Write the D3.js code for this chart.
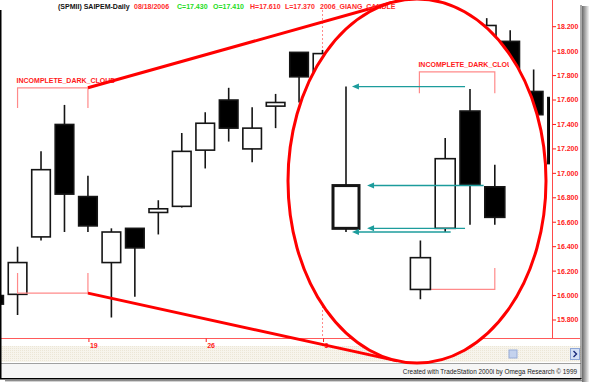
<!DOCTYPE html>
<html>
<head>
<script src="https://cdn.jsdelivr.net/npm/d3@7"></script>
<style>
  body { margin: 0; background: #fff; }
  svg { display: block; font-family: "Liberation Sans", Arial, sans-serif; }
</style>
</head>
<body>
<div id="chart"></div>
<script>
// daily bars, SAIPEM (hidden ones behind the magnifier left as null)
const dates = ["2006-06-13", "2006-06-14", "2006-06-15", "2006-06-16", "2006-06-19",
  "2006-06-20", "2006-06-21", "2006-06-22", "2006-06-23", "2006-06-26",
  "2006-06-27", "2006-06-28", "2006-06-29", "2006-06-30", "2006-07-03",
  "2006-07-04", "2006-07-05", "2006-07-06", "2006-07-07", "2006-07-10",
  "2006-07-11", "2006-07-12", "2006-07-13", "2006-07-14", "2006-07-17"];
const opens  = [16.00, 16.01, 16.48, 17.40, 16.81, 16.27, 16.55, 16.68, 16.73, 17.19, 17.60, 17.20, 17.55, 17.99, 17.70,
  null, null, null, null, null, null, 17.95, 18.08, 17.67, 17.62];
const highs  = [16.06, 16.40, 17.18, 17.56, 16.98, 16.55, 16.55, 16.78, 17.33, 17.50, 17.70, 17.54, 17.65, 17.99, 18.01,
  null, null, null, null, null, null, 18.27, 18.17, 17.85, 17.70];
const lows   = [15.88, 15.84, 16.45, 16.52, 16.52, 15.82, 15.99, 16.50, 16.72, 17.04, 17.26, 17.09, 17.37, 17.58, 17.60,
  null, null, null, null, null, null, 17.80, 17.55, 17.40, 16.95];
const closes = [15.93, 16.27, 17.03, 16.83, 16.57, 16.52, 16.39, 16.71, 17.18, 17.41, 17.37, 17.37, 17.58, 17.79, 17.98,
  null, null, null, null, null, null, 18.21, 17.72, 17.48, 17.08];

const priceTicks = [15.8, 16.0, 16.2, 16.4, 16.6, 16.8, 17.0, 17.2, 17.4, 17.6, 17.8, 18.0, 18.2];
const dateTicks = ["2006-06-19", "2006-06-26", "2006-07-03"];
const dateTickLabels = ["19", "26", "3"];
const markerDate = "2006-07-03";

// magnified pattern drawn inside the circle
const zoomSlots  = [0, 3, 4, 5, 6];
const zoomOpens  = [16.55, 16.05, 16.55, 17.51, 16.89];
const zoomHighs  = [17.71, 16.45, 17.29, 17.69, 17.07];
const zoomLows   = [16.52, 15.97, 16.52, 16.58, 16.58];
const zoomCloses = [16.90, 16.31, 17.12, 16.91, 16.64];

// teal arrows: price level, start slot, end slot
const arrowLevels = [17.71, 16.90, 16.55, 16.52];
const arrowFrom   = [4.8, 5.55, 4.8, 4.22];
const arrowTo     = [0.24, 0.85, 0.85, 0.24];

const mainBracket = { from: "2006-06-14", to: "2006-06-19", top: 17.70, bottom: 16.02, leg: 0.165 };
const zoomBracket = { from: 3, to: 6, top: 17.83, bottom: 16.05, leg: 0.175 };
const patternName = "INCOMPLETE_DARK_CLOUD";

const header = [
  { t: "(SPMII) SAIPEM-Daily", c: "#111", x: 58 },
  { t: "08/18/2006", c: "#ff2a2a", x: 134 },
  { t: "C=17.430", c: "#22dd22", x: 177 },
  { t: "O=17.410", c: "#22dd22", x: 213 },
  { t: "H=17.610", c: "#ff2a2a", x: 250 },
  { t: "L=17.370", c: "#ff2a2a", x: 285 },
  { t: "2006_GIANG_CANDLE", c: "#ff2a2a", x: 320 }
];

const W = 589, H = 382;
const plotRight = 550, axisX = 552.5, axisY = 338.5;
const E = { cx: 417, cy: 181, rx: 129, ry: 182 };
const red = "#ff1a1a", pink = "#ff8a8a", teal = "#1c9c9c";

const svg = d3.select("#chart").append("svg").attr("width", W).attr("height", H);
const defs = svg.append("defs");

const x = d3.scalePoint().domain(dates).range([-5.9, 557.1]);
const y = d3.scaleLinear().domain([15.8, 18.2]).range([320, 26.7]);
const xz = d3.scaleLinear().domain([0, 6]).range([346, 494.8]);

svg.append("rect").attr("width", W).attr("height", H).attr("fill", "#fff");

// shadow
const sg = defs.append("linearGradient").attr("id", "shR");
sg.append("stop").attr("offset", 0).attr("stop-color", "#6a6a6a");
sg.append("stop").attr("offset", 1).attr("stop-color", "#f4f4f4");
const sgb = defs.append("linearGradient").attr("id", "shB").attr("x1", 0).attr("x2", 0).attr("y1", 0).attr("y2", 1);
sgb.append("stop").attr("offset", 0).attr("stop-color", "#6a6a6a");
sgb.append("stop").attr("offset", 1).attr("stop-color", "#f4f4f4");
svg.append("rect").attr("x", 582).attr("y", 6).attr("width", 7).attr("height", 376).attr("fill", "url(#shR)");
svg.append("rect").attr("x", 5).attr("y", 380).attr("width", 577).attr("height", 2).attr("fill", "url(#shB)");

// status strip and footer
const pat = defs.append("pattern").attr("id", "dots").attr("width", 2).attr("height", 2)
  .attr("patternUnits", "userSpaceOnUse");
pat.append("rect").attr("width", 2).attr("height", 2).attr("fill", "#f7f4ec");
pat.append("rect").attr("width", 1).attr("height", 1).attr("fill", "#ece6d6");
svg.append("rect").attr("x", 1).attr("y", 346).attr("width", 580).attr("height", 16).attr("fill", "url(#dots)");
svg.append("rect").attr("x", 509).attr("y", 350).attr("width", 8).attr("height", 8)
  .attr("fill", "#c4d2ee").attr("stroke", "#98acd8");
svg.append("rect").attr("x", 570.5).attr("y", 348.5).attr("width", 9).attr("height", 11)
  .attr("fill", "#d4e0f6").attr("stroke", "#8ea6d6");
svg.append("path").attr("d", "M573.5,351 L576.5,354 L573.5,357").attr("fill", "none")
  .attr("stroke", "#1a2a7a").attr("stroke-width", 1.4);
svg.append("line").attr("x1", 1).attr("x2", 581).attr("y1", 363.5).attr("y2", 363.5).attr("stroke", "#a0a0a0");
svg.append("rect").attr("x", 1).attr("y", 364).attr("width", 580).attr("height", 14).attr("fill", "#f6f6f6");
svg.append("text").attr("x", 577).attr("y", 373.5).attr("text-anchor", "end")
  .attr("font-size", 6.4).attr("fill", "#222")
  .text("Created with TradeStation 2000i by Omega Research \u00a9 1999");

// axes
svg.append("line").attr("x1", 1).attr("x2", 580).attr("y1", axisY).attr("y2", axisY)
  .attr("stroke", "#ff5a5a");
svg.append("line").attr("x1", axisX).attr("x2", axisX).attr("y1", 0).attr("y2", axisY)
  .attr("stroke", "#ff4a4a");
const yt = svg.append("g").selectAll("g").data(priceTicks).join("g")
  .attr("transform", d => `translate(${axisX},${y(d)})`);
yt.append("line").attr("x2", 3.5).attr("stroke", red);
yt.append("text").attr("x", 4.5).attr("dy", "0.35em").attr("font-size", 7).attr("font-weight", "bold")
  .attr("fill", red).text(d => d3.format(".3f")(d));
const xt = svg.append("g").selectAll("g").data(dateTicks).join("g")
  .attr("transform", d => `translate(${x(d) + 1},${axisY})`);
xt.append("line").attr("y2", 3.5).attr("stroke", red);
xt.append("text").attr("x", 1).attr("y", 9.5).attr("font-size", 7).attr("font-weight", "bold")
  .attr("fill", red).text((d, i) => dateTickLabels[i]);

// candles
defs.append("clipPath").attr("id", "plotClip").append("rect")
  .attr("x", 0).attr("y", 0).attr("width", plotRight).attr("height", axisY);
const plot = svg.append("g").attr("clip-path", "url(#plotClip)");

plot.append("line").attr("x1", x(markerDate)).attr("x2", x(markerDate)).attr("y1", 10).attr("y2", 344)
  .attr("stroke", pink).attr("stroke-dasharray", "2,2");

const bars = dates.map((d, i) => ({ d, o: opens[i], h: highs[i], l: lows[i], c: closes[i] }))
  .filter(b => b.o != null);

function drawCandles(g, data, xf, bw, sw) {
  const c = g.selectAll("g.candle").data(data).join("g").attr("class", "candle");
  c.append("line").attr("x1", xf).attr("x2", xf).attr("y1", b => y(b.h)).attr("y2", b => y(b.l))
    .attr("stroke", "#151515").attr("stroke-width", 1.6);
  c.append("rect")
    .attr("x", b => xf(b) - bw / 2)
    .attr("y", b => y(Math.max(b.o, b.c)))
    .attr("width", bw)
    .attr("height", b => Math.max(1.5, Math.abs(y(b.o) - y(b.c))))
    .attr("fill", b => b.c >= b.o ? "#fff" : "#000")
    .attr("stroke", "#151515").attr("stroke-width", sw);
}
drawCandles(plot, bars, b => x(b.d), 18.6, 1.6);

// pattern bracket + label
function bracket(g, x0, x1, top, bottom, leg, labelClip) {
  g.append("path").attr("d", `M${x0},${y(top - leg)}V${y(top)}H${x1}V${y(top - leg)}`)
    .attr("fill", "none").attr("stroke", pink).attr("stroke-width", 1.2);
  g.append("path").attr("d", `M${x0},${y(bottom + leg)}V${y(bottom)}H${x1}V${y(bottom + leg)}`)
    .attr("fill", "none").attr("stroke", pink).attr("stroke-width", 1.2);
  const t = g.append("text").attr("x", x0 - 1).attr("y", y(top) - 4.5).attr("font-size", 7).attr("font-weight", "bold")
    .attr("fill", red).text(patternName);
  if (labelClip) t.attr("clip-path", labelClip);
}
const ann = svg.append("g");
const bx0 = x(mainBracket.from), bx1 = x(mainBracket.to);
bracket(ann, bx0, bx1, mainBracket.top, mainBracket.bottom, mainBracket.leg);

// tangent lines from bracket corners to the magnifier
function tangent(px, py, sign) {
  const ux = (px - E.cx) / E.rx, uy = (py - E.cy) / E.ry;
  const a = Math.atan2(uy, ux) + sign * Math.acos(1 / Math.hypot(ux, uy));
  return [E.cx + E.rx * Math.cos(a), E.cy + E.ry * Math.sin(a)];
}
const c1 = [bx1, y(mainBracket.top)], c2 = [bx1, y(mainBracket.bottom)];
const t1 = tangent(c1[0], c1[1], 1), t2 = tangent(c2[0], c2[1], -1);
svg.append("line").attr("x1", c1[0]).attr("y1", c1[1]).attr("x2", t1[0]).attr("y2", t1[1])
  .attr("stroke", "#ff0000").attr("stroke-width", 3);
svg.append("line").attr("x1", c2[0]).attr("y1", c2[1]).attr("x2", t2[0]).attr("y2", t2[1])
  .attr("stroke", "#ff0000").attr("stroke-width", 3);

// magnifier
svg.append("ellipse").attr("cx", E.cx).attr("cy", E.cy).attr("rx", E.rx).attr("ry", E.ry).attr("fill", "#fff");
defs.append("clipPath").attr("id", "lens").append("ellipse")
  .attr("cx", E.cx).attr("cy", E.cy).attr("rx", E.rx - 1.5).attr("ry", E.ry - 1.5);
// the inset label is cut short in the original
defs.append("clipPath").attr("id", "lensLabel").append("rect")
  .attr("x", 0).attr("y", 0).attr("width", 509).attr("height", H);
const lens = svg.append("g").attr("clip-path", "url(#lens)");

bracket(lens, xz(zoomBracket.from) - 1, xz(zoomBracket.to), zoomBracket.top, zoomBracket.bottom, zoomBracket.leg,
  "url(#lensLabel)");

const zbars = zoomSlots.map((s, i) => ({ s, o: zoomOpens[i], h: zoomHighs[i], l: zoomLows[i], c: zoomCloses[i] }));
drawCandles(lens.append("g"), zbars.slice(1), b => xz(b.s), 20, 1.6);
drawCandles(lens.append("g"), zbars.slice(0, 1), b => xz(b.s), 26, 3);

const arrows = arrowLevels.map((v, i) => ({ v, a: xz(arrowFrom[i]), b: xz(arrowTo[i]) }));
const ar = lens.append("g").selectAll("g").data(arrows).join("g");
ar.append("line").attr("x1", d => d.a).attr("x2", d => d.b + 5).attr("y1", d => y(d.v)).attr("y2", d => y(d.v))
  .attr("stroke", teal).attr("stroke-width", 1.4);
ar.append("path").attr("d", d => `M${d.b},${y(d.v)}l7,-3v6z`).attr("fill", teal);

// header (sits over the lens fill, under its rim)
svg.append("g").selectAll("text").data(header).join("text")
  .attr("x", d => d.x).attr("y", 9).attr("font-size", 7).attr("font-weight", "bold")
  .attr("fill", d => d.c).text(d => d.t);

svg.append("ellipse").attr("cx", E.cx).attr("cy", E.cy).attr("rx", E.rx).attr("ry", E.ry)
  .attr("fill", "none").attr("stroke", "#ff0000").attr("stroke-width", 3);

// window borders
svg.append("line").attr("x1", 0.75).attr("x2", 0.75).attr("y1", 10).attr("y2", 379).attr("stroke", "#000").attr("stroke-width", 1.5);
svg.append("line").attr("x1", 581).attr("x2", 581).attr("y1", 5).attr("y2", 379).attr("stroke", "#555").attr("stroke-width", 1);
svg.append("line").attr("x1", 0).attr("x2", 581.5).attr("y1", 378.75).attr("y2", 378.75).attr("stroke", "#000").attr("stroke-width", 1.5);
</script>
</body>
</html>
